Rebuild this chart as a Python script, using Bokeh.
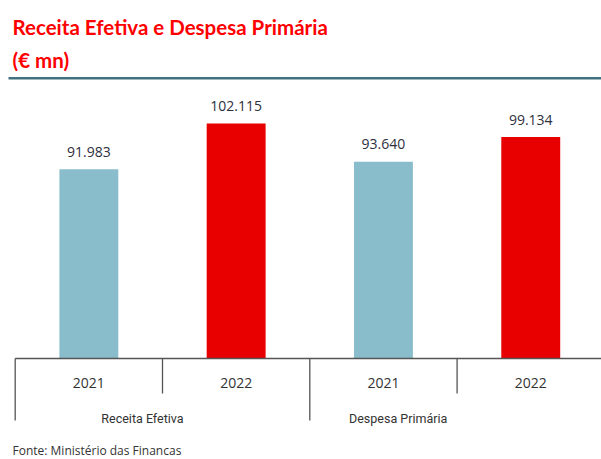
from bokeh.plotting import figure
from bokeh.models import Range1d, ColumnDataSource
from bokeh.core.properties import value
from bokeh.embed import file_html
from bokeh.resources import INLINE

# ---- data ----
groups = ["Receita Efetiva", "Despesa Primária"]
years = ["2021", "2022", "2021", "2022"]
values = [91.983, 102.115, 93.640, 99.134]
value_labels = ["91.983", "102.115", "93.640", "99.134"]
bar_colors = ["#8abdcb", "#e80000", "#8abdcb", "#e80000"]
title_line1 = "Receita Efetiva e Despesa  Primária"
title_line2 = "(€ mn)"
source_note = "Fonte: Ministério das Financas"

# ---- layout (pixels, from figure's top-left) ----
W, H = 601, 459
y_floor = 50.0          # value axis starts here
baseline_px = 358.0     # axis line row
ppu = 4.51              # pixels per unit
cat_left_px = 14.7
cat_w_px = 147.3
label_gap_px = 17.3
n = len(values)

x_range = Range1d(-cat_left_px / cat_w_px, (W - cat_left_px) / cat_w_px)
y_range = Range1d(y_floor - (H - baseline_px) / ppu, y_floor + baseline_px / ppu)

p = figure(width=W, height=H, x_range=x_range, y_range=y_range,
           output_backend="svg", toolbar_location=None,
           x_axis_location=None, y_axis_location=None, min_border=0)
p.extra_y_ranges = {"px": Range1d(start=H, end=0)}
p.extra_x_ranges = {"px": Range1d(start=0, end=W)}
p.grid.visible = False
p.outline_line_color = None
p.background_fill_color = "white"
p.border_fill_color = "white"

xc = [i + 0.5 for i in range(n)]
src = ColumnDataSource(dict(x=xc, top=values, color=bar_colors,
                            lab=value_labels,
                            ly=[v + label_gap_px / ppu for v in values]))

p.vbar(x="x", top="top", bottom=y_floor, width=0.40, color="color",
       line_color=None, source=src)

p.text(x="x", y="ly", text="lab", source=src, text_align="center",
       text_baseline="middle", text_font=value("Open Sans"),
       text_font_size="14px", text_color="#2e3040")

# axis line
p.segment(x0=[0], y0=[y_floor], x1=[n], y1=[y_floor], line_color="#555555",
          line_width=1.3)

# separators: group boundaries longer, inner boundaries shorter
bx = list(range(n + 1))
tick_end = [420 if b % 2 == 0 else 393 for b in bx]
p.segment(x0=bx, y0=[baseline_px] * len(bx), x1=bx, y1=tick_end,
          y_range_name="px", line_color="#555555", line_width=1.3)

# year labels
p.text(x=xc, y=[382.5] * n, text=years,
       y_range_name="px", text_align="center", text_baseline="middle",
       text_font=value("Open Sans"), text_font_size="14px", text_color="#333333")

# group labels
group_x = [0.864, 2.60]
p.text(x=group_x, y=[417.5, 417.5], text=groups, y_range_name="px",
       text_align="center", text_baseline="middle",
       text_font=value("Roboto"), text_font_size="12.5px", text_color="#333333")

# title
p.text(x=[12, 12], y=[26.2, 59.3], text=[title_line1, title_line2],
       x_range_name="px", y_range_name="px", text_align="left",
       text_baseline="middle", text_font=value("Lato"),
       text_font_style="bold", text_font_size="20.5px", text_color="#ff0000")

# rule under title
p.segment(x0=[8], y0=[77.8], x1=[W], y1=[77.8], x_range_name="px",
          y_range_name="px", line_color="#41707f", line_width=2.6)

# source
p.text(x=[12], y=[449.5], text=[source_note], x_range_name="px", y_range_name="px",
       text_align="left", text_baseline="middle",
       text_font=value("Open Sans"), text_font_size="12px", text_color="#333333")

open("out.html", "w").write(file_html(p, INLINE))
